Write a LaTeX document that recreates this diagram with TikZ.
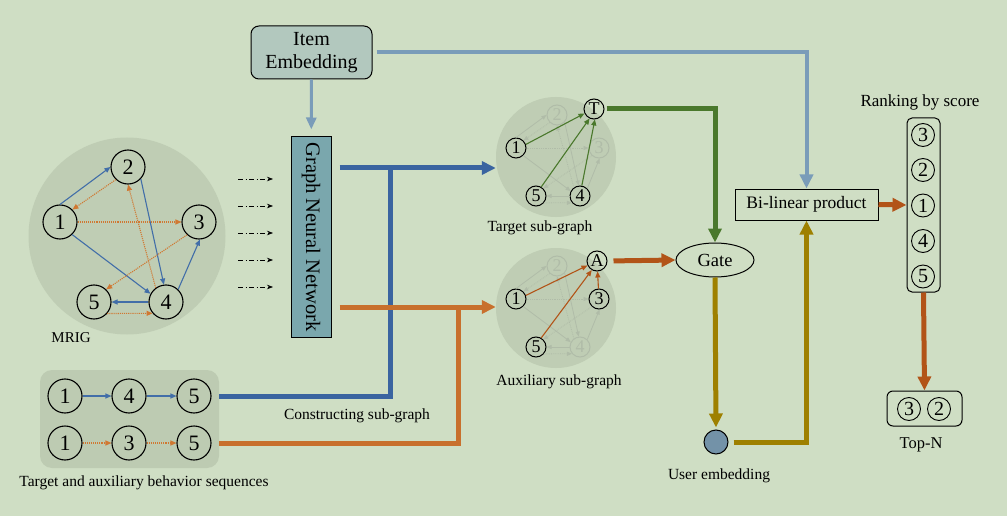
\documentclass[tikz,border=0pt]{standalone}
\usepackage{fontspec}
\usepackage{graphicx}
\setmainfont{Liberation Serif}
\usetikzlibrary{arrows.meta,shapes.geometric}

\definecolor{bgcol}{RGB}{207,222,196}
\definecolor{mrigfill}{RGB}{191,205,180}
\definecolor{seqfill}{RGB}{189,203,178}
\definecolor{itemfill}{RGB}{178,200,190}
\definecolor{gnnfill}{RGB}{122,167,173}
\definecolor{usercol}{RGB}{115,146,168}
\definecolor{tgtblue}{RGB}{66,110,168}
\definecolor{thickblue}{RGB}{58,100,160}
\definecolor{auxorange}{RGB}{208,120,50}
\definecolor{thickorange}{RGB}{200,112,45}
\definecolor{rustorange}{RGB}{178,84,24}
\definecolor{leafgreen}{RGB}{74,120,44}
\definecolor{olivecol}{RGB}{158,128,0}
\definecolor{skyblue}{RGB}{122,156,185}
\definecolor{fadecol}{RGB}{176,188,168}

\begin{document}
\begin{tikzpicture}[
		x=1pt, y=-1pt,
		thin,
		>={Triangle[length=6pt,width=5pt]},
		every node/.style={inner sep=0pt},
		vertex/.style={circle,draw,line width=1.1pt,minimum size=34pt,font=\fontsize{22}{22}\selectfont},
		subvertex/.style={circle,draw,line width=1pt,minimum size=20pt,font=\fontsize{18}{18}\selectfont},
		ghost/.style={subvertex,draw=fadecol,text=fadecol},
		rankvertex/.style={circle,draw,line width=0.9pt,minimum size=23pt,font=\fontsize{20}{20}\selectfont},
		tgt/.style={->,draw=tgtblue,line width=1.1pt},
		aux/.style={->,draw=auxorange,line width=1.1pt,densely dotted},
		ghosttgt/.style={-{Triangle[length=5pt,width=4pt]},draw=fadecol,line width=0.8pt},
		ghostaux/.style={ghosttgt,densely dotted},
		fatline/.style={line width=5pt},
		fat/.style={fatline,-{Triangle[length=14pt,width=13pt]}},
		box/.style={draw,line width=1pt},
		caption/.style={font=\fontsize{15.5}{16}\selectfont}
	]

		% Background and frame
		\fill[bgcol] (0,0) rectangle (1007,516);
		\useasboundingbox (0,0) rectangle (1007,516);

		% Shaded areas
		\node[circle,fill=mrigfill,minimum size=197pt] (mrig) at (127,236) {};
		\node[circle,fill=mrigfill,minimum size=120pt] (tsg) at (556,157) {};
		\node[circle,fill=mrigfill,minimum size=120pt] (asg) at (556,308) {};
		\node[fill=seqfill,rounded corners=12pt,minimum width=179pt,minimum height=98pt] (seq) at (129.5,419) {};

		% MRIG
		\node[vertex] (m1) at (60,222) {1};
		\node[vertex] (m2) at (128,167) {2};
		\node[vertex] (m3) at (199,222) {3};
		\node[vertex] (m4) at (166,302) {4};
		\node[vertex] (m5) at (94,302) {5};
		\draw[tgt] (m1.90) -- (m2.180);
		\draw[tgt] (m2.317) -- (m4.97);
		\draw[tgt] (m1.314) -- (m4.152);
		\draw[tgt] (m4.46) -- (m3.273);
		\draw[tgt] (m4.180) -- (m5.0);
		\draw[aux] (m2.226) -- (m1.45);
		\draw[aux] (m1.0) -- (m3.180);
		\draw[aux] (m3.227) -- (m5.46);
		\draw[aux] (m4.126) -- (m2.270);
		\draw[aux] (m5.319) -- (m4.220);
		\node[font=\fontsize{15}{15}\selectfont] (mriglabel) at (71,338) {MRIG};

		% Behavior sequences
		\node[vertex] (s11) at (65,396) {1};
		\node[vertex] (s14) at (129,396) {4};
		\node[vertex] (s15) at (194,396) {5};
		\node[vertex] (s21) at (65,443) {1};
		\node[vertex] (s23) at (129,443) {3};
		\node[vertex] (s25) at (194,443) {5};
		\draw[tgt] (s11) -- (s14);
		\draw[tgt] (s14) -- (s15);
		\draw[aux] (s21) -- (s23);
		\draw[aux] (s23) -- (s25);
		\node[caption] (seqlabel) at (144,483) {Target and auxiliary behavior sequences};

		% Item embedding and GNN
		\node[box,rounded corners=8pt,fill=itemfill,minimum width=121pt,minimum height=53pt,
			align=center,font=\fontsize{20}{23}\selectfont] (item) at (311.5,52.5) {Item\\Embedding};
		\node[box,fill=gnnfill,minimum width=40pt,minimum height=200pt,font=\fontsize{20.5}{21}\selectfont]
			(gnn) at (311,237) {\rotatebox{-90}{Graph Neural Network}};
		\draw[skyblue,line width=3pt,-{Triangle[length=12pt,width=10pt]},shorten >=7pt] (item) -- (gnn);
		\foreach \i/\y in {1/179,2/206,3/233,4/260,5/287}{
			\coordinate (in\i) at (238,\y);
			\draw[line width=0.7pt,dash pattern=on 5pt off 2.5pt on 1pt off 2.5pt,
				-{Stealth[length=6pt,width=4.5pt]}] (in\i) -- ++(35,0);
		}

		% Target sub-graph
		\node[subvertex] (t1) at (516,148) {1};
		\node[ghost] (t2) at (557,115) {2};
		\node[ghost] (t3) at (599,148) {3};
		\node[subvertex] (t4) at (580,196) {4};
		\node[subvertex] (t5) at (536,196) {5};
		\node[subvertex] (tT) at (594,109) {T};
		\node[caption] (tlabel) at (540,228) {Target sub-graph};

		% Auxiliary sub-graph
		\node[subvertex] (a1) at (516,299) {1};
		\node[ghost] (a2) at (557,266) {2};
		\node[subvertex] (a3) at (599,299) {3};
		\node[ghost] (a4) at (580,347) {4};
		\node[subvertex] (a5) at (536,347) {5};
		\node[subvertex] (aA) at (597,261) {A};
		\node[caption] (alabel) at (559,382) {Auxiliary sub-graph};

		\foreach \g in {t,a}{
			\draw[ghosttgt] (\g1.90) -- (\g2.180);
			\draw[ghosttgt] (\g2.317) -- (\g4.97);
			\draw[ghosttgt] (\g1.314) -- (\g4.152);
			\draw[ghosttgt] (\g4.46) -- (\g3.273);
			\draw[ghosttgt] (\g4.180) -- (\g5.0);
			\draw[ghostaux] (\g2.226) -- (\g1.45);
			\draw[ghostaux] (\g1.0) -- (\g3.180);
			\draw[ghostaux] (\g3.227) -- (\g5.46);
			\draw[ghostaux] (\g4.126) -- (\g2.270);
			\draw[ghostaux] (\g5.319) -- (\g4.220);
		}
		\draw[->,leafgreen,line width=1.1pt] (t1.20) -- (tT.205);
		\draw[->,leafgreen,line width=1.1pt] (t5.60) -- (tT.245);
		\draw[->,leafgreen,line width=1.1pt] (t4.80) -- (tT.275);
		\draw[->,rustorange,line width=1.1pt] (a1.20) -- (aA.205);
		\draw[->,rustorange,line width=1.1pt] (a5.60) -- (aA.240);
		\draw[->,rustorange,line width=1.1pt] (a3) -- (aA);

		% Constructing sub-graph
		\coordinate (tjoin) at (390,168);
		\coordinate (ajoin) at (458,307);
		\draw[fat,thickblue,shorten <=8pt] (gnn.east |- tjoin) -- (tjoin -| tsg.west);
		\draw[fatline,thickblue] (seq.east |- s15) -| (tjoin);
		\draw[fat,thickorange,shorten <=8pt] (gnn.east |- ajoin) -- (ajoin -| asg.west);
		\draw[fatline,thickorange] (seq.east |- s25) -| (ajoin);
		\node[caption] (conlabel) at (357,416) {Constructing sub-graph};

		% Gate and user embedding
		\node[ellipse,box,minimum width=78pt,minimum height=34pt,font=\fontsize{18.5}{19}\selectfont] (gate) at (715,260) {Gate};
		\node[circle,box,fill=usercol,minimum size=24pt] (user) at (716,442) {};
		\node[caption] (ulabel) at (719,476) {User embedding};
		\draw[fat,leafgreen,shorten <=2pt] (tT.east) -| (gate.north);
		\draw[fat,rustorange,shorten <=6pt] (aA.east) -- (gate.west);
		\draw[fat,olivecol,shorten >=2pt] (gate.south) -- (user.north);

		% Scoring
		\node[box,minimum width=143pt,minimum height=31pt,font=\fontsize{17.5}{18}\selectfont] (bil) at (806.5,204.5) {Bi-linear product};
		\draw[fat,skyblue,line width=4pt,shorten <=4pt] (item.east) -| (bil.north);
		\draw[fat,olivecol,shorten <=5pt] (user.east) -| (bil.south);

		% Ranking
		\node[box,rounded corners=5pt,minimum width=33pt,minimum height=174pt] (rank) at (923.5,205) {};
		\node[rankvertex] (r3) at (923,135) {3};
		\node[rankvertex] (r2) at (923,170) {2};
		\node[rankvertex] (r1) at (923,205.5) {1};
		\node[rankvertex] (r4) at (923,241) {4};
		\node[rankvertex] (r5) at (923,276.5) {5};
		\node[font=\fontsize{17}{17}\selectfont] (rlabel) at (920,102) {Ranking by score};
		\draw[fat,rustorange] (bil.east) -- (rank.west);

		\node[box,rounded corners=6pt,minimum width=75pt,minimum height=35pt] (topn) at (924.5,408.5) {};
		\node[rankvertex] (n3) at (909,409) {3};
		\node[rankvertex] (n2) at (939,409) {2};
		\node[font=\fontsize{16.5}{17}\selectfont] (nlabel) at (921,445) {Top-N};
		\draw[fat,rustorange] (rank.south) -- (topn.north);
	\end{tikzpicture}
\end{document}
